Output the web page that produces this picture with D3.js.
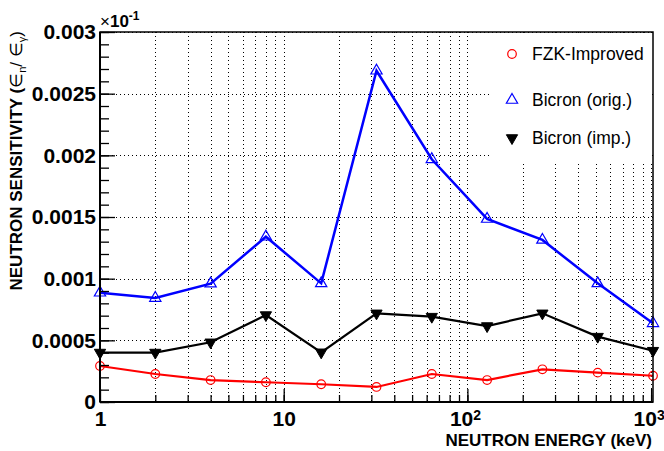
<!DOCTYPE html>
<html>
<head>
<meta charset="utf-8">
<script src="https://cdn.jsdelivr.net/npm/d3@7"></script>
<style>
  body { margin: 0; background: #fff; }
  svg { display: block; font-family: "Liberation Sans", Arial, sans-serif; }
</style>
</head>
<body>
<div id="chart"></div>
<script>
// neutron energy (keV)
var energies = [1, 2, 4, 8, 16, 32, 64, 128, 256, 512, 1024];

// sensitivities
var fzkImproved = [0.000292, 0.000227, 0.000178, 0.00016, 0.000144, 0.000122, 0.000227, 0.000178, 0.000265, 0.000238, 0.000213];
var bicronOrig = [0.000886, 0.000843, 0.00096, 0.00134, 0.000962, 0.002686, 0.001968, 0.001484, 0.001314, 0.000962, 0.000638];
var bicronImp = [0.000401, 0.000401, 0.000484, 0.000705, 0.000403, 0.000719, 0.000692, 0.000616, 0.000719, 0.00053, 0.000416];

var yMajor = [0, 0.0005, 0.001, 0.0015, 0.002, 0.0025, 0.003];
var yMajorLabels = ["0", "0.0005", "0.001", "0.0015", "0.002", "0.0025", "0.003"];
var xMajor = [1, 10, 100, 1000];
var xMajorLabels = [["1", ""], ["10", ""], ["10", "2"], ["10", "3"]];
var legendNames = ["FZK-Improved", "Bicron (orig.)", "Bicron (imp.)"];

var width = 664,
    height = 451,
    mLeft = 100, mRight = 653, mTop = 32, mBottom = 402;

var x = d3.scaleLog().domain([1, 1024]).range([mLeft, mRight]);
var y = d3.scaleLinear().domain([0, 0.003]).range([mBottom, mTop]);

var svg = d3.select("#chart").append("svg")
    .attr("width", width)
    .attr("height", height);

svg.append("rect").attr("width", width).attr("height", height).attr("fill", "#fff");

// minor x values 2..9 per decade + decades
var xGrid = [];
[1, 10, 100].forEach(function(dec) {
  for (var k = 2; k <= 10; k++) xGrid.push(dec * k);
});
var yMinor = d3.range(0, 31).map(function(i) { return i * 0.0001; });

// grid
var grid = svg.append("g").attr("stroke", "#000").attr("stroke-width", 1)
    .attr("stroke-dasharray", "1,3");
grid.selectAll(".vg").data(xGrid).enter().append("line")
    .attr("x1", function(d) { return Math.round(x(d)) + 0.5; })
    .attr("x2", function(d) { return Math.round(x(d)) + 0.5; })
    .attr("y1", mTop).attr("y2", mBottom);
grid.selectAll(".hg").data(yMajor.slice(1)).enter().append("line")
    .attr("x1", mLeft).attr("x2", mRight)
    .attr("y1", function(d) { return Math.round(y(d)) + 0.5; })
    .attr("y2", function(d) { return Math.round(y(d)) + 0.5; });

// legend box covers the grid
svg.append("rect").attr("x", 490).attr("y", mTop + 1).attr("width", mRight - 491).attr("height", 130)
    .attr("fill", "#fff");

var series = [
  { values: fzkImproved, color: "#ff0000", width: 2.2, marker: "circle" },
  { values: bicronOrig, color: "#0000ff", width: 2.5, marker: "up" },
  { values: bicronImp, color: "#000000", width: 2.2, marker: "down" }
];

var line = d3.line()
    .x(function(d) { return x(d[0]); })
    .y(function(d) { return y(d[1]); });

var triangle = d3.symbol().type(d3.symbolTriangle).size(55);

function drawMarker(g, kind, color) {
  if (kind === "circle") {
    g.append("circle").attr("r", 4.3).attr("fill", "none")
      .attr("stroke", color).attr("stroke-width", 1.2);
  } else if (kind === "up") {
    g.append("path").attr("d", triangle()).attr("fill", "none")
      .attr("stroke", color).attr("stroke-width", 1.2);
  } else {
    g.append("path").attr("d", triangle()).attr("transform", "rotate(180)")
      .attr("fill", color).attr("stroke", color).attr("stroke-width", 1);
  }
}

series.forEach(function(s) {
  var pts = energies.map(function(e, i) { return [e, s.values[i]]; });
  svg.append("path").datum(pts)
    .attr("d", line)
    .attr("fill", "none")
    .attr("stroke", s.color)
    .attr("stroke-width", s.width);
  pts.forEach(function(p) {
    var g = svg.append("g").attr("transform", "translate(" + x(p[0]) + "," + y(p[1]) + ")");
    drawMarker(g, s.marker, s.color);
  });
});

// axes: minor ticks
svg.append("g").attr("transform", "translate(" + mLeft + ",0)")
    .call(d3.axisLeft(y).tickValues(yMinor).tickSize(-9).tickFormat(""))
    .call(function(g) { g.select(".domain").remove(); });
svg.append("g").attr("transform", "translate(0," + mBottom + ")")
    .call(d3.axisBottom(x).tickValues(xGrid).tickSize(-7).tickFormat(""))
    .call(function(g) { g.select(".domain").remove(); });

// major ticks + labels
var yAxis = svg.append("g").attr("transform", "translate(" + mLeft + ",0)")
    .call(d3.axisLeft(y).tickValues(yMajor).tickSize(-15).tickPadding(4)
      .tickFormat(function(d, i) { return yMajorLabels[i]; }));
yAxis.select(".domain").remove();

var xAxis = svg.append("g").attr("transform", "translate(0," + mBottom + ")")
    .call(d3.axisBottom(x).tickValues(xMajor).tickSize(-13).tickPadding(9)
      .tickFormat(function(d, i) { return xMajorLabels[i][0]; }));
xAxis.select(".domain").remove();
xAxis.selectAll(".tick text").each(function(d, i) {
  var sup = xMajorLabels[i][1];
  if (sup) {
    d3.select(this).append("tspan").attr("dy", "-0.45em").style("font-size", "14px").text(sup);
    d3.select(this).attr("text-anchor", "start").attr("x", -18);
  }
});

svg.selectAll(".tick line").attr("stroke", "#000").attr("stroke-width", 1.3);
svg.selectAll(".tick text")
    .attr("fill", "#000")
    .style("font-family", "'Liberation Sans', Arial, sans-serif")
    .style("font-weight", "bold")
    .style("font-size", "21px");

// frame
svg.append("rect").attr("x", mLeft).attr("y", mTop).attr("width", mRight - mLeft).attr("height", mBottom - mTop)
    .attr("fill", "none").attr("stroke", "#000").attr("stroke-width", 1.5);
svg.append("line").attr("x1", mLeft).attr("x2", mLeft).attr("y1", mTop).attr("y2", mBottom)
    .attr("stroke", "#000").attr("stroke-width", 2);
svg.append("line").attr("x1", mLeft).attr("x2", mRight).attr("y1", mBottom).attr("y2", mBottom)
    .attr("stroke", "#000").attr("stroke-width", 2);

// exponent label
var expo = svg.append("text").attr("x", 100).attr("y", 27)
    .style("font-size", "17px").style("font-weight", "bold").attr("fill", "#000");
expo.append("tspan").style("font-weight", "normal").text("\u00d7");
expo.append("tspan").text("10");
expo.append("tspan").attr("dy", -7).style("font-size", "12px").text("-1");

// axis titles
svg.append("text").attr("x", 652).attr("y", 446).attr("text-anchor", "end")
    .style("font-size", "17px").style("font-weight", "bold").attr("fill", "#000")
    .text("NEUTRON ENERGY (keV)");

var yt = svg.append("text").attr("transform", "translate(22,31) rotate(-90)")
    .attr("text-anchor", "end")
    .style("font-size", "17px").style("font-weight", "bold").attr("fill", "#000");
yt.append("tspan").text("NEUTRON SENSITIVITY (");
yt.append("tspan").style("font-weight", "normal").text("\u2208");
yt.append("tspan").attr("dy", 4).style("font-size", "11px").style("font-weight", "normal").text("n");
yt.append("tspan").attr("dy", -4).style("font-weight", "normal").text("/ \u2208");
yt.append("tspan").attr("dy", 4).style("font-size", "11px").style("font-weight", "normal").text("\u03b3");
yt.append("tspan").attr("dy", -4).style("font-weight", "normal").text(")");

// legend
var legendY = [54, 100, 138];
series.forEach(function(s, i) {
  var g = svg.append("g").attr("transform", "translate(512," + legendY[i] + ")");
  drawMarker(g, s.marker, s.color);
  svg.append("text").attr("x", 532).attr("y", legendY[i]).attr("dy", "0.36em")
    .style("font-size", "17.5px").attr("fill", "#000")
    .text(legendNames[i]);
});
</script>
</body>
</html>
